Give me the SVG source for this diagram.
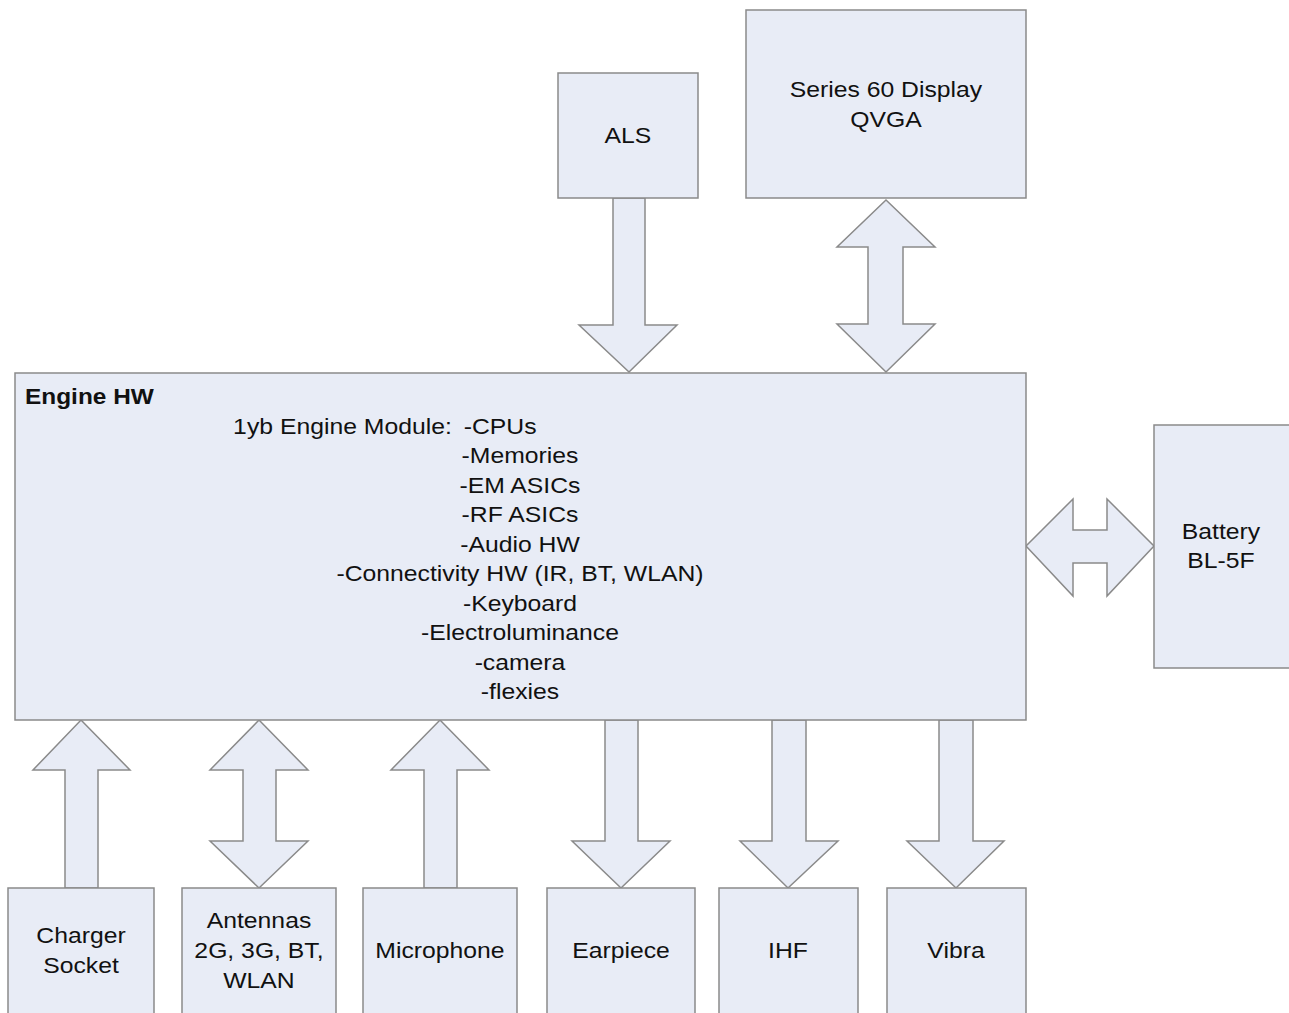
<svg xmlns="http://www.w3.org/2000/svg" width="1289" height="1013" viewBox="0 0 1289 1013">
  <style>
    .box { fill: #e8ecf6; stroke: #8a8a8a; stroke-width: 1.5; }
    .arrow { fill: #e8ecf6; stroke: #8a8a8a; stroke-width: 1.5; stroke-linejoin: miter; }
    text { font-family: "Liberation Sans", Arial, sans-serif; font-size: 22px; fill: #111; }
    .c { text-anchor: middle; }
    .b { font-weight: bold; }
  </style>
  <rect width="1289" height="1013" fill="#ffffff"/>

  <!-- Connectors: block arrows between units -->
  <g id="connectors">
    <!-- ALS -> Engine -->
    <polygon class="arrow" points="613,198 645,198 645,325 677,325 629,372 579,325 613,325"/>
    <!-- Display <-> Engine -->
    <polygon class="arrow" points="886,200 935,247 903,247 903,324 935,324 886,372 837,324 868,324 868,247 837,247"/>
    <!-- Engine <-> Battery -->
    <polygon class="arrow" points="1026,546 1073,499 1073,530 1107,530 1107,499 1154,546 1107,596 1107,563 1073,563 1073,596"/>
    <!-- Charger -> Engine -->
    <polygon class="arrow" points="81,720 130,770 98,770 98,888 65,888 65,770 33,770"/>
    <!-- Antennas <-> Engine -->
    <polygon class="arrow" points="259,720 308,770 276,770 276,841 308,841 259,888 210,841 243,841 243,770 210,770"/>
    <!-- Microphone -> Engine -->
    <polygon class="arrow" points="440,720 489,770 457,770 457,888 424,888 424,770 391,770"/>
    <!-- Engine -> Earpiece -->
    <polygon class="arrow" points="605,720 638,720 638,841 670,841 621,888 572,841 605,841"/>
    <!-- Engine -> IHF -->
    <polygon class="arrow" points="772,720 806,720 806,841 838,841 788,888 740,841 772,841"/>
    <!-- Engine -> Vibra -->
    <polygon class="arrow" points="939,720 973,720 973,841 1004,841 956,888 907,841 939,841"/>
  </g>

  <!-- Labels are widened by 1.125 about their centre line -->
  <g id="als">
    <rect class="box" x="558" y="73" width="140" height="125"/>
    <g transform="matrix(1.125 0 0 1 -78.5 0)">
      <text class="c" x="628" y="143">ALS</text>
    </g>
  </g>

  <g id="display">
    <rect class="box" x="746" y="10" width="280" height="188"/>
    <g transform="matrix(1.125 0 0 1 -110.75 0)">
      <text class="c" x="886" y="97">Series 60 Display</text>
      <text class="c" x="886" y="127">QVGA</text>
    </g>
  </g>

  <g id="engine">
    <rect class="box" x="15" y="373" width="1011" height="347"/>
    <g transform="matrix(1.11 0 0 1 -2.75 0)">
      <text class="b" x="25" y="404">Engine HW</text>
    </g>
    <g transform="matrix(1.125 0 0 1 -65 0)">
      <text x="265" y="434">1yb Engine Module:</text>
      <text x="470" y="434">-CPUs</text>
      <text class="c" x="520" y="463">-Memories</text>
      <text class="c" x="520" y="493">-EM ASICs</text>
      <text class="c" x="520" y="522">-RF ASICs</text>
      <text class="c" x="520" y="552">-Audio HW</text>
      <text class="c" x="520" y="581">-Connectivity HW (IR, BT, WLAN)</text>
      <text class="c" x="520" y="611">-Keyboard</text>
      <text class="c" x="520" y="640">-Electroluminance</text>
      <text class="c" x="520" y="670">-camera</text>
      <text class="c" x="520" y="699">-flexies</text>
    </g>
  </g>

  <g id="battery">
    <rect class="box" x="1154" y="425" width="140" height="243"/>
    <g transform="matrix(1.125 0 0 1 -152.625 0)">
      <text class="c" x="1221" y="539">Battery</text>
      <text class="c" x="1221" y="568">BL-5F</text>
    </g>
  </g>

  <g id="charger">
    <rect class="box" x="8" y="888" width="146" height="140"/>
    <g transform="matrix(1.125 0 0 1 -10.125 0)">
      <text class="c" x="81" y="943">Charger</text>
      <text class="c" x="81" y="973">Socket</text>
    </g>
  </g>

  <g id="antennas">
    <rect class="box" x="182" y="888" width="154" height="140"/>
    <g transform="matrix(1.125 0 0 1 -32.375 0)">
      <text class="c" x="259" y="928">Antennas</text>
      <text class="c" x="259" y="958">2G, 3G, BT,</text>
      <text class="c" x="259" y="988">WLAN</text>
    </g>
  </g>

  <g id="microphone">
    <rect class="box" x="363" y="888" width="154" height="140"/>
    <g transform="matrix(1.125 0 0 1 -55 0)">
      <text class="c" x="440" y="958">Microphone</text>
    </g>
  </g>

  <g id="earpiece">
    <rect class="box" x="547" y="888" width="148" height="140"/>
    <g transform="matrix(1.125 0 0 1 -77.625 0)">
      <text class="c" x="621" y="958">Earpiece</text>
    </g>
  </g>

  <g id="ihf">
    <rect class="box" x="719" y="888" width="139" height="140"/>
    <g transform="matrix(1.125 0 0 1 -98.5 0)">
      <text class="c" x="788" y="958">IHF</text>
    </g>
  </g>

  <g id="vibra">
    <rect class="box" x="887" y="888" width="139" height="140"/>
    <g transform="matrix(1.125 0 0 1 -119.5 0)">
      <text class="c" x="956" y="958">Vibra</text>
    </g>
  </g>
</svg>
